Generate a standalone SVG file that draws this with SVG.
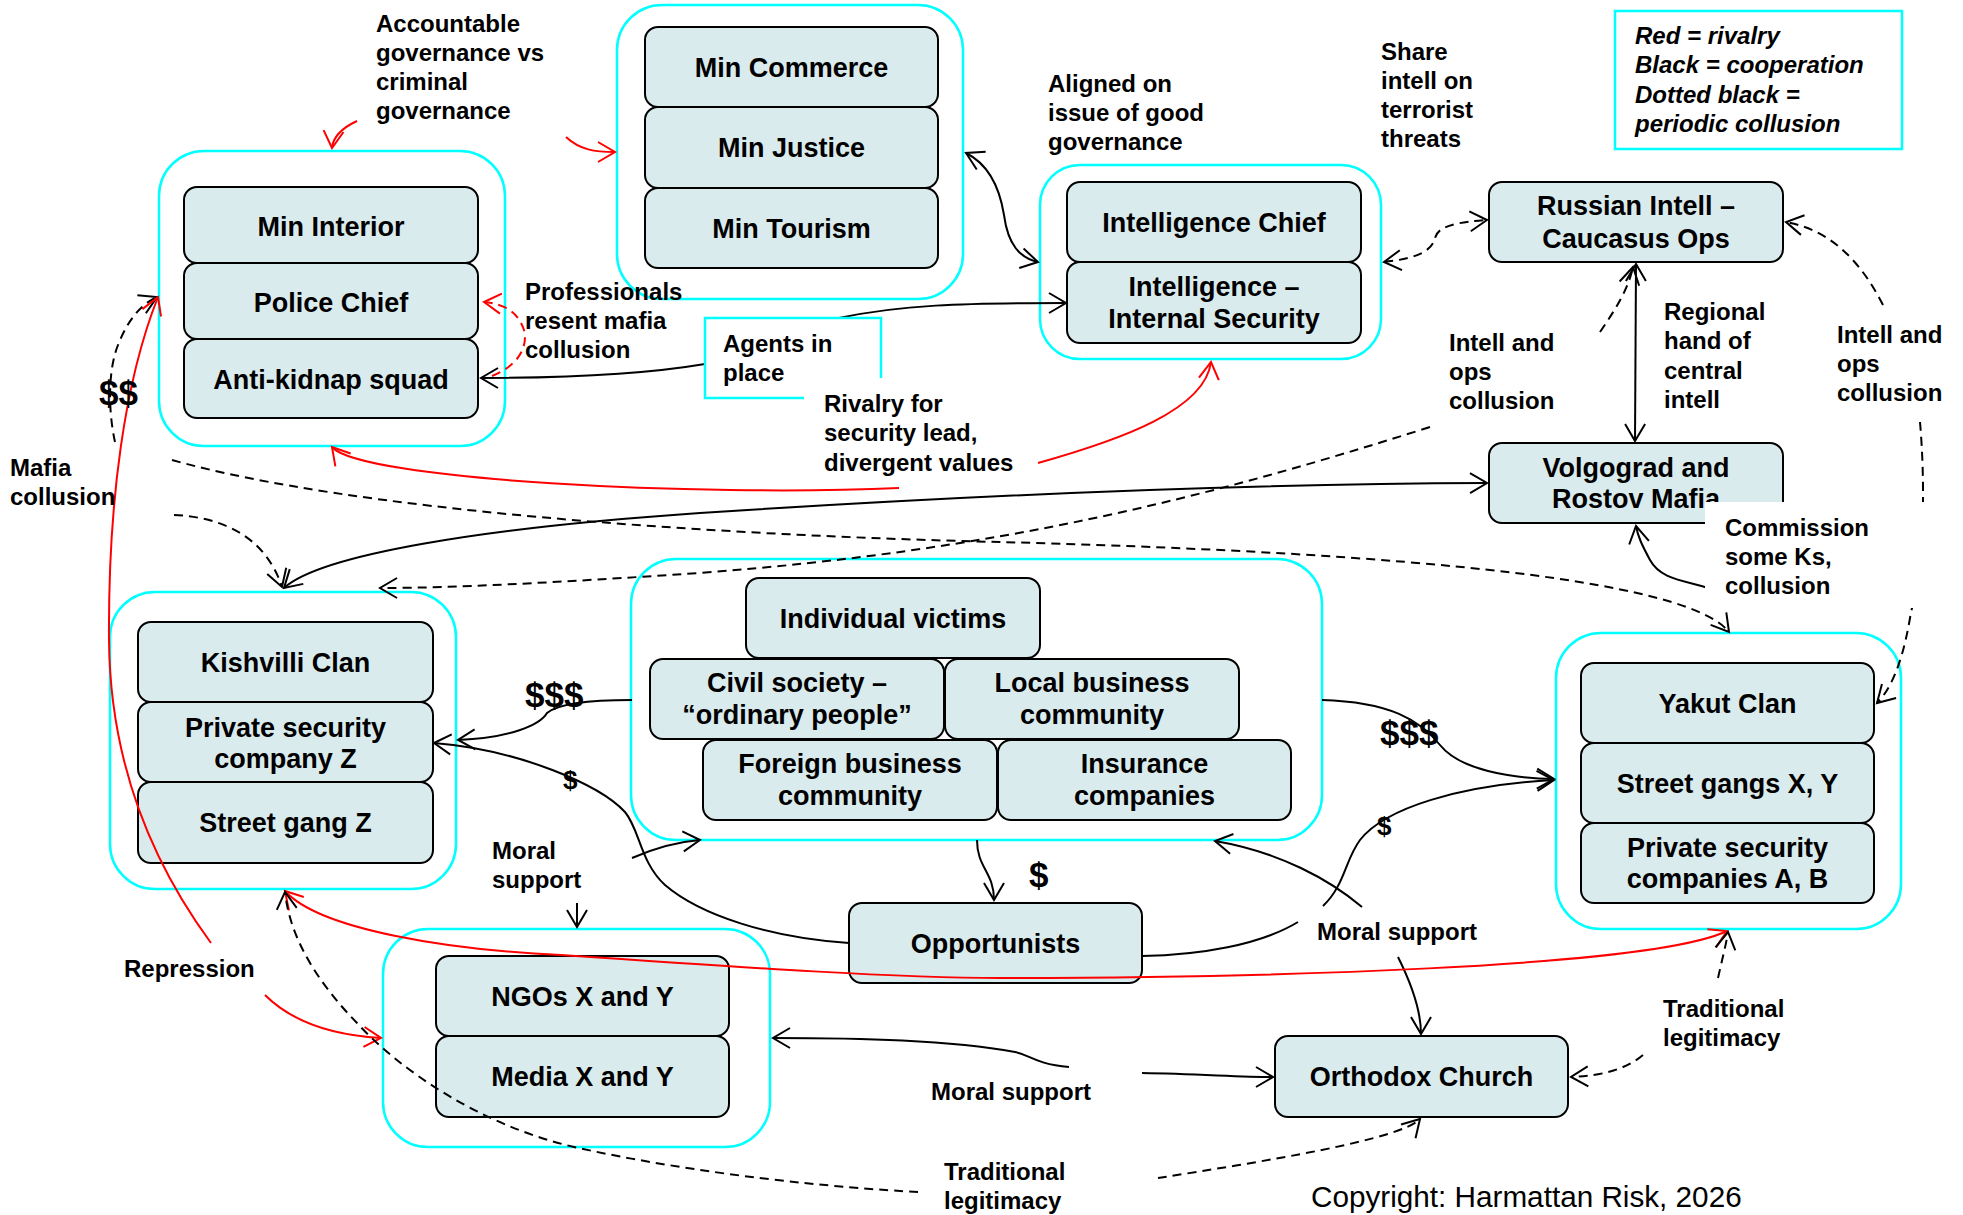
<svg xmlns="http://www.w3.org/2000/svg" width="1963" height="1215" viewBox="0 0 1963 1215">
<style>
.grp{fill:none;stroke:#00FFFF;stroke-width:2.5}
.box{fill:#DAEBED;stroke:#000;stroke-width:2}
.nt{font-family:"Liberation Sans",Arial,sans-serif;font-weight:bold;font-size:27px;text-anchor:middle;fill:#000}
.lb{font-family:"Liberation Sans",Arial,sans-serif;font-weight:bold;font-size:24px;fill:#000}
.lg{font-family:"Liberation Sans",Arial,sans-serif;font-weight:bold;font-style:italic;font-size:24px;fill:#000}
.mo{font-family:"Liberation Sans",Arial,sans-serif;font-weight:bold;font-size:35px;fill:#000}
.ms{font-family:"Liberation Sans",Arial,sans-serif;font-weight:bold;font-size:26px;fill:#000}
.cp{font-family:"Liberation Sans",Arial,sans-serif;font-size:29.7px;fill:#000}
.c{fill:none;stroke:#000;stroke-width:2}
.d{stroke-dasharray:9 6}
.r{stroke:#FF0000}
.ab{fill:none;stroke:#000;stroke-width:2;stroke-dasharray:none}
.ar{fill:none;stroke:#FF0000;stroke-width:2;stroke-dasharray:none}
</style>
<defs>
<marker id="ah" markerUnits="userSpaceOnUse" markerWidth="24" markerHeight="24" viewBox="0 0 24 24" refX="20" refY="12" orient="auto-start-reverse"><path class="ab" d="M3,2 L20,12 L3,22"/></marker>
<marker id="ahr" markerUnits="userSpaceOnUse" markerWidth="24" markerHeight="24" viewBox="0 0 24 24" refX="20" refY="12" orient="auto-start-reverse"><path class="ar" d="M3,2 L20,12 L3,22"/></marker>
</defs>
<rect width="1963" height="1215" fill="#fff"/>

<g id="g-interior">
<rect class="grp" x="159" y="151" width="346" height="295" rx="45"/>
<rect class="box" x="184" y="187" width="294" height="76" rx="13"/>
<rect class="box" x="184" y="263" width="294" height="76" rx="13"/>
<rect class="box" x="184" y="339" width="294" height="79" rx="13"/>
<text class="nt" x="331" y="236">Min Interior</text>
<text class="nt" x="331" y="312">Police Chief</text>
<text class="nt" x="331" y="389">Anti-kidnap squad</text>
</g>

<g id="g-ministries">
<rect class="grp" x="617" y="5" width="346" height="294" rx="45"/>
<rect class="box" x="645" y="27" width="293" height="80" rx="13"/>
<rect class="box" x="645" y="107" width="293" height="81" rx="13"/>
<rect class="box" x="645" y="188" width="293" height="80" rx="13"/>
<text class="nt" x="791.5" y="77">Min Commerce</text>
<text class="nt" x="791.5" y="157">Min Justice</text>
<text class="nt" x="791.5" y="238">Min Tourism</text>
</g>

<g id="g-intelligence">
<rect class="grp" x="1040" y="165" width="341" height="194" rx="40"/>
<rect class="box" x="1067" y="182" width="294" height="80" rx="13"/>
<rect class="box" x="1067" y="262" width="294" height="81" rx="13"/>
<text class="nt" x="1214" y="232">Intelligence Chief</text>
<text class="nt" x="1214" y="296">Intelligence –</text>
<text class="nt" x="1214" y="328">Internal Security</text>
</g>

<g id="n-russian">
<rect class="box" x="1489" y="182" width="294" height="80" rx="13"/>
<text class="nt" x="1636" y="215">Russian Intell –</text>
<text class="nt" x="1636" y="248">Caucasus Ops</text>
</g>

<g id="n-volgograd">
<rect class="box" x="1489" y="443" width="294" height="80" rx="13"/>
<text class="nt" x="1636" y="477">Volgograd and</text>
<text class="nt" x="1636" y="508">Rostov Mafia</text>
</g>

<g id="g-kishvilli">
<rect class="grp" x="110" y="592" width="346" height="297" rx="45"/>
<rect class="box" x="138" y="622" width="295" height="80" rx="13"/>
<rect class="box" x="138" y="702" width="295" height="80" rx="13"/>
<rect class="box" x="138" y="782" width="295" height="81" rx="13"/>
<text class="nt" x="285.5" y="672">Kishvilli Clan</text>
<text class="nt" x="285.5" y="737">Private security</text>
<text class="nt" x="285.5" y="768">company Z</text>
<text class="nt" x="285.5" y="832">Street gang Z</text>
</g>

<g id="g-victims">
<rect class="grp" x="631" y="559" width="691" height="281" rx="45"/>
<rect class="box" x="746" y="578" width="294" height="80" rx="13"/>
<rect class="box" x="650" y="659" width="294" height="80" rx="13"/>
<rect class="box" x="945" y="659" width="294" height="80" rx="13"/>
<rect class="box" x="703" y="740" width="294" height="80" rx="13"/>
<rect class="box" x="998" y="740" width="293" height="80" rx="13"/>
<text class="nt" x="893" y="628">Individual victims</text>
<text class="nt" x="797" y="692">Civil society –</text>
<text class="nt" x="797" y="724">“ordinary people”</text>
<text class="nt" x="1092" y="692">Local business</text>
<text class="nt" x="1092" y="724">community</text>
<text class="nt" x="850" y="773">Foreign business</text>
<text class="nt" x="850" y="805">community</text>
<text class="nt" x="1144.5" y="773">Insurance</text>
<text class="nt" x="1144.5" y="805">companies</text>
</g>

<g id="g-yakut">
<rect class="grp" x="1556" y="633" width="345" height="296" rx="45"/>
<rect class="box" x="1581" y="663" width="293" height="80" rx="13"/>
<rect class="box" x="1581" y="743" width="293" height="80" rx="13"/>
<rect class="box" x="1581" y="823" width="293" height="80" rx="13"/>
<text class="nt" x="1727.5" y="713">Yakut Clan</text>
<text class="nt" x="1727.5" y="793">Street gangs X, Y</text>
<text class="nt" x="1727.5" y="857">Private security</text>
<text class="nt" x="1727.5" y="888">companies A, B</text>
</g>

<g id="g-ngo">
<rect class="grp" x="383" y="929" width="387" height="218" rx="45"/>
<rect class="box" x="436" y="956" width="293" height="80" rx="13"/>
<rect class="box" x="436" y="1036" width="293" height="81" rx="13"/>
<text class="nt" x="582.5" y="1006">NGOs X and Y</text>
<text class="nt" x="582.5" y="1086">Media X and Y</text>
</g>

<g id="n-opportunists">
<rect class="box" x="849" y="903" width="293" height="80" rx="13"/>
<text class="nt" x="995.5" y="953">Opportunists</text>
</g>

<g id="n-orthodox">
<rect class="box" x="1275" y="1036" width="293" height="81" rx="13"/>
<text class="nt" x="1421.5" y="1086">Orthodox Church</text>
</g>

<g id="legend">
<rect x="1615" y="11" width="287" height="138" fill="#fff" stroke="#00FFFF" stroke-width="2.5"/>
<text class="lg" x="1635" y="44">Red = rivalry</text>
<text class="lg" x="1635" y="73">Black = cooperation</text>
<text class="lg" x="1635" y="103">Dotted black =</text>
<text class="lg" x="1635" y="132">periodic collusion</text>
</g>

<g id="connectors">
<path class="c r" d="M357,121 C342,128 333,137 332,148" marker-end="url(#ahr)"/>
<path class="c r" d="M566,137 C580,150 595,152 615,152" marker-end="url(#ahr)"/>
<path class="c" d="M966,153 C990,165 1000,190 1004,215 C1008,245 1020,258 1038,262" marker-start="url(#ah)" marker-end="url(#ah)"/>
<path class="c d" d="M1384,262 C1420,258 1432,250 1435,238 C1438,225 1460,222 1487,220" marker-start="url(#ah)" marker-end="url(#ah)"/>
<path class="c" d="M1636,264 L1635,441" marker-start="url(#ah)" marker-end="url(#ah)"/>
<path class="c r d" d="M492,376 C520,365 528,345 524,330 C518,312 505,304 484,302" marker-end="url(#ahr)"/>
<path class="c" d="M705,364 C640,375 560,378 481,378" marker-end="url(#ah)"/>
<path class="c" d="M839,318 C900,305 960,303 1066,303" marker-end="url(#ah)"/>
<path class="c r" d="M899,488 C700,497 360,480 332,447" marker-end="url(#ahr)"/>
<path class="c r" d="M1038,463 C1120,440 1205,410 1211,362" marker-end="url(#ahr)"/>
<path class="c d" d="M115,442 C108,410 108,370 118,345 C128,320 140,305 157,297" marker-end="url(#ah)"/>
<path class="c r" d="M211,943 C150,860 110,760 109,640 C108,500 125,380 158,297" marker-end="url(#ahr)"/>
<path class="c r" d="M265,995 C290,1020 330,1035 381,1038" marker-end="url(#ahr)"/>
<path class="c d" d="M172,460 C350,510 700,535 1000,542 C1300,550 1680,570 1729,632" marker-end="url(#ah)"/>
<path class="c d" d="M174,515 C220,517 265,535 282,587" marker-end="url(#ah)"/>
<path class="c d" d="M1430,427 C1200,500 1000,550 700,573 C550,583 450,588 380,588" marker-end="url(#ah)"/>
<path class="c d" d="M1600,332 C1615,310 1628,290 1633,267" marker-end="url(#ah)"/>
<path class="c" d="M284,588 C320,555 480,528 700,513 C900,500 1200,484 1487,483" marker-start="url(#ah)" marker-end="url(#ah)"/>
<path class="c d" d="M1883,305 C1860,260 1830,230 1786,222" marker-end="url(#ah)"/>
<path class="c d" d="M1920,422 C1925,480 1925,560 1911,612 C1905,650 1895,685 1877,703" marker-end="url(#ah)"/>
<path class="c" d="M1720,592 C1690,580 1662,582 1650,560 C1642,545 1638,537 1636,526" marker-end="url(#ah)"/>
<path class="c" d="M632,700 C600,700 560,702 547,713 C540,725 510,738 458,740" marker-end="url(#ah)"/>
<path class="c" d="M849,943 C770,938 700,915 665,885 C640,862 640,830 625,812 C600,785 520,750 434,743" marker-end="url(#ah)"/>
<path class="c" d="M632,858 C655,848 675,842 700,840" marker-end="url(#ah)"/>
<path class="c" d="M577,903 L577,927" marker-end="url(#ah)"/>
<path class="c" d="M977,840 C977,868 994,872 994,900" marker-end="url(#ah)"/>
<path class="c" d="M1322,700 C1390,702 1420,720 1440,745 C1460,770 1510,778 1554,779" marker-end="url(#ah)"/>
<path class="c" d="M1142,956 C1200,955 1260,945 1298,922"/>
<path class="c" d="M1362,907 C1330,880 1280,852 1215,841" marker-end="url(#ah)"/>
<path class="c" d="M1323,906 C1345,885 1345,860 1360,840 C1385,808 1460,785 1554,780" marker-end="url(#ah)"/>
<path class="c" d="M1398,957 C1412,985 1421,1010 1421,1034" marker-end="url(#ah)"/>
<path class="c r" d="M285,891 C320,930 450,950 561,955 C750,968 900,978 1000,978 C1250,978 1650,968 1727,931" marker-start="url(#ahr)" marker-end="url(#ahr)"/>
<path class="c d" d="M918,1192 C840,1188 700,1175 574,1147 C480,1125 400,1070 357,1023 C320,985 290,940 285,892" marker-end="url(#ah)"/>
<path class="c d" d="M1158,1178 C1260,1162 1400,1140 1420,1119" marker-end="url(#ah)"/>
<path class="c d" d="M1718,978 C1722,960 1726,945 1728,932" marker-end="url(#ah)"/>
<path class="c d" d="M1643,1055 C1625,1070 1600,1076 1571,1077" marker-end="url(#ah)"/>
<path class="c" d="M1069,1067 C1035,1064 1030,1055 1015,1052 C950,1040 860,1038 773,1038" marker-end="url(#ah)"/>
<path class="c" d="M1142,1073 C1200,1074 1240,1077 1273,1077" marker-end="url(#ah)"/>
</g>

<g id="labels">
<text class="lb" x="376" y="32">Accountable</text>
<text class="lb" x="376" y="61">governance vs</text>
<text class="lb" x="376" y="90">criminal</text>
<text class="lb" x="376" y="119">governance</text>
<text class="lb" x="1048" y="92">Aligned on</text>
<text class="lb" x="1048" y="121">issue of good</text>
<text class="lb" x="1048" y="150">governance</text>
<text class="lb" x="1381" y="60">Share</text>
<text class="lb" x="1381" y="89">intell on</text>
<text class="lb" x="1381" y="118">terrorist</text>
<text class="lb" x="1381" y="147">threats</text>
<text class="lb" x="525" y="300">Professionals</text>
<text class="lb" x="525" y="329">resent mafia</text>
<text class="lb" x="525" y="358">collusion</text>
<path d="M804,398 L705,398 L705,318 L881,318 L881,378" fill="none" stroke="#00FFFF" stroke-width="2.5"/>
<text class="lb" x="723" y="352">Agents in</text>
<text class="lb" x="723" y="381">place</text>
<text class="lb" x="824" y="412">Rivalry for</text>
<text class="lb" x="824" y="441">security lead,</text>
<text class="lb" x="824" y="471">divergent values</text>
<text class="lb" x="1449" y="351">Intell and</text>
<text class="lb" x="1449" y="380">ops</text>
<text class="lb" x="1449" y="409">collusion</text>
<text class="lb" x="1664" y="320">Regional</text>
<text class="lb" x="1664" y="349">hand of</text>
<text class="lb" x="1664" y="379">central</text>
<text class="lb" x="1664" y="408">intell</text>
<text class="lb" x="1837" y="343">Intell and</text>
<text class="lb" x="1837" y="372">ops</text>
<text class="lb" x="1837" y="401">collusion</text>
<text class="lb" x="10" y="476">Mafia</text>
<text class="lb" x="10" y="505">collusion</text>
<rect x="1705" y="502" width="240" height="106" fill="#fff"/>
<text class="lb" x="1725" y="536">Commission</text>
<text class="lb" x="1725" y="565">some Ks,</text>
<text class="lb" x="1725" y="594">collusion</text>
<text class="lb" x="492" y="859">Moral</text>
<text class="lb" x="492" y="888">support</text>
<text class="lb" x="124" y="977">Repression</text>
<text class="lb" x="1317" y="940">Moral support</text>
<text class="lb" x="931" y="1100">Moral support</text>
<text class="lb" x="1663" y="1017">Traditional</text>
<text class="lb" x="1663" y="1046">legitimacy</text>
<text class="lb" x="944" y="1180">Traditional</text>
<text class="lb" x="944" y="1209">legitimacy</text>
<text class="mo" x="99" y="405">$$</text>
<text class="mo" x="525" y="707">$$$</text>
<text class="ms" x="563" y="789">$</text>
<text class="mo" x="1029" y="887">$</text>
<text class="mo" x="1380" y="745">$$$</text>
<text class="ms" x="1377" y="835">$</text>
<text class="cp" x="1311" y="1207">Copyright: Harmattan Risk, 2026</text>
</g>
</svg>
